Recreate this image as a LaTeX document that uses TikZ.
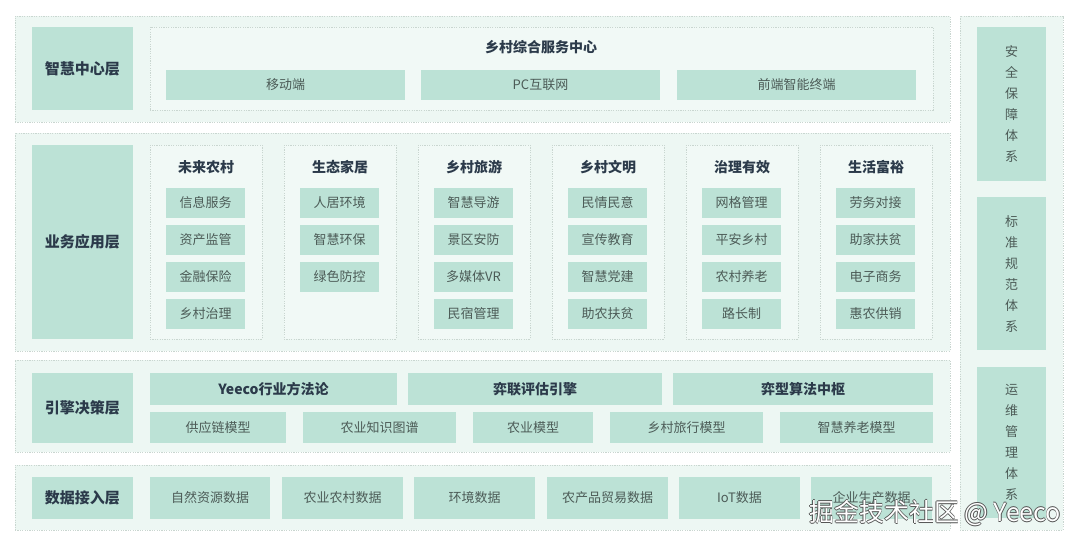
\documentclass[tikz,border=0pt]{standalone}
\usepackage{fontspec}
\setmainfont{Noto Sans CJK SC}
\definecolor{layerbg}{HTML}{EDF7F3}
\definecolor{colbg}{HTML}{F1F9F6}
\definecolor{mint}{HTML}{BCE2D6}
\definecolor{dashc}{HTML}{C9D6D0}
\definecolor{navy}{HTML}{2B3A4A}
\definecolor{itemtxt}{HTML}{4C5B57}
\definecolor{wmgray}{HTML}{555555}
\newcommand\bx[7]{\node[#1,minimum width={((#5)-(#3))*1pt},minimum height={((#6)-(#4))*1pt}] (#2) at ({((#3)+(#5))/2},{((#4)+(#6))/2}) {#7};}
\tikzset{
  base/.style={inner sep=0pt,outer sep=0pt,rectangle},
  layer/.style={base,fill=layerbg,draw=dashc,dash pattern=on 1.2pt off 1.2pt,line width=0.6pt},
  colbox/.style={base,fill=colbg,draw=dashc,dash pattern=on 1.2pt off 1.2pt,line width=0.6pt},
  lab/.style={base,fill=mint,text=navy,font=\bfseries\fontsize{15}{18}\selectfont},
  item/.style={base,fill=mint,text=itemtxt,font=\fontsize{13}{15}\selectfont},
  bitem/.style={base,fill=mint,text=navy,font=\bfseries\fontsize{14}{16}\selectfont},
  ttl/.style={base,text=navy,font=\bfseries\fontsize{14}{16}\selectfont},
  vert/.style={base,fill=mint,text=itemtxt,align=center,font=\fontsize{13}{21}\selectfont},
  wm/.style={base,font=\fontsize{25}{28}\selectfont}
}
\begin{document}
\begin{tikzpicture}[x=1pt,y=-1pt]
\useasboundingbox[fill=white] (0,0) rectangle (1080,545);
% layer 1
\bx{layer}{L1}{15}{16}{950}{122}{}
\bx{lab}{L1lab}{32}{27}{133}{110}{智慧中心层}
\bx{colbox}{L1in}{150}{27}{933}{110}{}
\node[ttl] (L1t) at (541,47) {乡村综合服务中心};
\bx{item}{m1}{166}{70}{405}{100}{移动端}
\bx{item}{m2}{421}{70}{660}{100}{PC互联网}
\bx{item}{m3}{677}{70}{916}{100}{前端智能终端}
% layer 2
\bx{layer}{L2}{15}{133}{950}{351}{}
\bx{lab}{L2lab}{32}{145}{133}{339}{业务应用层}
\foreach \x/\t/\a/\b/\c/\d [count=\i] in {
  150/未来农村/信息服务/资产监管/金融保险/乡村治理,
  284/生态家居/人居环境/智慧环保/绿色防控/,
  418/乡村旅游/智慧导游/景区安防/多媒体VR/民宿管理,
  552/乡村文明/民情民意/宣传教育/智慧党建/助农扶贫,
  686/治理有效/网格管理/平安乡村/农村养老/路长制,
  820/生活富裕/劳务对接/助家扶贫/电子商务/惠农供销}{
  \bx{colbox}{c\i}{\x}{145}{\x+112}{339}{}
  \node[ttl] (c\i t) at (\x+56,167) {\t};
  \bx{item}{c\i-1}{\x+16}{188}{\x+95}{218}{\a}
  \bx{item}{c\i-2}{\x+16}{225}{\x+95}{255}{\b}
  \bx{item}{c\i-3}{\x+16}{262}{\x+95}{292}{\c}
  \ifx\d\empty\else
  \bx{item}{c\i-4}{\x+16}{299}{\x+95}{329}{\d}
  \fi
}
% layer 3
\bx{layer}{L3}{15}{360}{950}{452}{}
\bx{lab}{L3lab}{32}{373}{133}{443}{引擎决策层}
\bx{bitem}{e1}{150}{373}{397}{405}{Yeeco行业方法论}
\bx{bitem}{e2}{408}{373}{662}{405}{弈联评估引擎}
\bx{bitem}{e3}{673}{373}{933}{405}{弈型算法中枢}
\bx{item}{f1}{150}{412}{286}{443}{供应链模型}
\bx{item}{f2}{303}{412}{456}{443}{农业知识图谱}
\bx{item}{f3}{473}{412}{593}{443}{农业模型}
\bx{item}{f4}{610}{412}{763}{443}{乡村旅行模型}
\bx{item}{f5}{780}{412}{933}{443}{智慧养老模型}
% layer 4
\bx{layer}{L4}{15}{465}{950}{530}{}
\bx{lab}{L4lab}{32}{477}{133}{519}{数据接入层}
\bx{item}{d1}{150}{477}{270}{519}{自然资源数据}
\bx{item}{d2}{282}{477}{403}{519}{农业农村数据}
\bx{item}{d3}{414}{477}{535}{519}{环境数据}
\bx{item}{d4}{547}{477}{668}{519}{农产品贸易数据}
\bx{item}{d5}{679}{477}{800}{519}{IoT数据}
\bx{item}{d6}{811}{477}{932}{519}{企业生产数据}
% right column
\bx{layer}{R}{960}{16}{1063}{530}{}
\bx{vert}{r1}{977}{27}{1046}{181}{安\\全\\保\\障\\体\\系}
\bx{vert}{r2}{977}{197}{1046}{350}{标\\准\\规\\范\\体\\系}
\bx{vert}{r3}{977}{367}{1046}{518}{运\\维\\管\\理\\体\\系}
% watermark
\foreach \dx/\dy in {-0.8/0,0.8/0,0/-0.8,0/0.8}{
  \node[wm,text=wmgray] at (935+\dx,513+\dy) {掘金技术社区 @ Yeeco};
}
\node[wm,text=white] (wmk) at (935,513) {掘金技术社区 @ Yeeco};
\end{tikzpicture}
\end{document}
